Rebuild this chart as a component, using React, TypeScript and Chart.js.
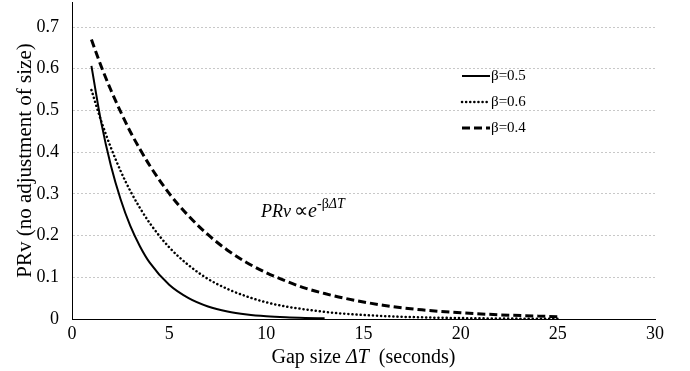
import React, { useEffect, useRef } from 'react';
import { Chart, registerables } from 'chart.js';

Chart.register(...registerables);

// Gap size ΔT (seconds)
const gapSizes = [1, 1.5, 2, 2.5, 3, 3.5, 4, 5, 6, 7, 8, 9, 10, 11, 12, 13, 14, 16, 18, 20, 22, 25];
// β=0.5 (solid) – ends near 13 s where it merges with the axis
const prvBeta05 = [0.607, 0.472, 0.368, 0.287, 0.223, 0.174, 0.135, 0.082, 0.05, 0.03, 0.018, 0.011, 0.0067, 0.0041, 0.0025, 0.0015];
// β=0.6 (dotted)
const prvBeta06 = [0.549, 0.475, 0.411, 0.355, 0.307, 0.266, 0.23, 0.172, 0.129, 0.096, 0.072, 0.054, 0.04, 0.03, 0.023, 0.017, 0.0127, 0.0071, 0.004, 0.0022, 0.0012, 0.0005];
// β=0.4 (dashed)
const prvBeta04 = [0.67, 0.606, 0.549, 0.497, 0.449, 0.407, 0.368, 0.301, 0.247, 0.202, 0.165, 0.135, 0.111, 0.091, 0.074, 0.061, 0.05, 0.033, 0.022, 0.015, 0.01, 0.0055];

const seriesLabels = ['β=0.5', 'β=0.6', 'β=0.4'];
const xTitleParts = ['Gap size ', 'ΔT', '  (seconds)'];
const yTitle = 'PRv (no adjustment of size)';
const formulaParts = ['PRv', '∝', 'e', '-β', 'ΔT'];

const SERIF = '"Liberation Serif", "Times New Roman", serif';

const toPoints = (ys: number[]) => ys.map((y, i) => ({ x: gapSizes[i], y }));

const decorPlugin = {
  id: 'decor',
  afterDraw(chart: any) {
    const { ctx, chartArea } = chart;
    ctx.save();
    ctx.fillStyle = '#000';

    // Y title
    ctx.save();
    ctx.translate(25, (chartArea.top + chartArea.bottom) / 2);
    ctx.rotate(-Math.PI / 2);
    ctx.font = `21px ${SERIF}`;
    ctx.textAlign = 'center';
    ctx.textBaseline = 'middle';
    ctx.fillText(yTitle, 0, 0);
    ctx.restore();

    // X title (mixed italic)
    const fonts = [`20px ${SERIF}`, `italic 20px ${SERIF}`, `20px ${SERIF}`];
    let total = 0;
    const widths = xTitleParts.map((t, i) => {
      ctx.font = fonts[i];
      const w = ctx.measureText(t).width;
      total += w;
      return w;
    });
    let x = (chartArea.left + chartArea.right) / 2 - total / 2;
    ctx.textAlign = 'left';
    ctx.textBaseline = 'alphabetic';
    xTitleParts.forEach((t, i) => {
      ctx.font = fonts[i];
      ctx.fillText(t, x, 363);
      x += widths[i];
    });

    // Formula annotation
    ctx.font = `italic 18px ${SERIF}`;
    ctx.fillText(formulaParts[0], 261, 217);
    ctx.font = `20px ${SERIF}`;
    ctx.fillText(formulaParts[1], 294, 217);
    ctx.font = `italic 20px ${SERIF}`;
    ctx.fillText(formulaParts[2], 308, 217);
    ctx.font = `14px ${SERIF}`;
    ctx.fillText(formulaParts[3], 317, 208);
    const bw = ctx.measureText(formulaParts[3]).width;
    ctx.font = `italic 14px ${SERIF}`;
    ctx.fillText(formulaParts[4], 317 + bw, 208);

    // Legend
    chart.data.datasets.forEach((ds: any, i: number) => {
      const y = 76 + i * 26;
      ctx.save();
      ctx.strokeStyle = ds.borderColor;
      ctx.lineWidth = ds.borderWidth;
      ctx.lineCap = ds.borderCapStyle || 'butt';
      ctx.setLineDash(ds.borderDash || []);
      ctx.beginPath();
      ctx.moveTo(462, y);
      ctx.lineTo(490, y);
      ctx.stroke();
      ctx.restore();
      ctx.font = `15px ${SERIF}`;
      ctx.textBaseline = 'middle';
      ctx.textAlign = 'left';
      ctx.fillText(ds.label, 491, y);
    });
    ctx.restore();
  },
};

export default function App() {
  const canvasRef = useRef<HTMLCanvasElement | null>(null);

  useEffect(() => {
    document.body.style.margin = '0';
    const canvas = canvasRef.current;
    if (!canvas) return;
    const chart = new Chart(canvas, {
      type: 'line',
      data: {
        datasets: [
          {
            label: seriesLabels[0],
            data: toPoints(prvBeta05),
            borderColor: '#000',
            borderWidth: 2,
            pointRadius: 0,
            cubicInterpolationMode: 'monotone',
            fill: false,
          },
          {
            label: seriesLabels[1],
            data: toPoints(prvBeta06),
            borderColor: '#000',
            borderWidth: 2.5,
            borderDash: [0.1, 4],
            borderCapStyle: 'round',
            pointRadius: 0,
            cubicInterpolationMode: 'monotone',
            fill: false,
          },
          {
            label: seriesLabels[2],
            data: toPoints(prvBeta04),
            borderColor: '#000',
            borderWidth: 3,
            borderDash: [8, 4],
            borderCapStyle: 'butt',
            pointRadius: 0,
            cubicInterpolationMode: 'monotone',
            fill: false,
          },
        ],
      },
      options: {
        responsive: false,
        animation: false,
        devicePixelRatio: 1,
        layout: { padding: { left: 0, right: 35, top: 2, bottom: 0 } },
        plugins: { legend: { display: false }, tooltip: { enabled: false } },
        scales: {
          x: {
            type: 'linear',
            min: 0,
            max: 30,
            afterFit: (s: any) => {
              s.height = 52;
              s.paddingLeft = 0;
              s.paddingRight = 0;
            },
            ticks: {
              stepSize: 5,
              padding: 4,
              color: '#000',
              font: { family: SERIF, size: 18 },
              maxRotation: 0,
            },
            grid: { display: false, drawTicks: false },
            border: { display: true, color: '#000', width: 1 },
          },
          y: {
            type: 'linear',
            min: 0,
            max: 0.76,
            afterFit: (s: any) => {
              s.width = 72;
              s.paddingTop = 0;
              s.paddingBottom = 0;
            },
            ticks: {
              stepSize: 0.1,
              includeBounds: false,
              padding: 13,
              color: '#000',
              font: { family: SERIF, size: 18 },
            },
            grid: {
              drawTicks: false,
              lineWidth: 1,
              color: (c: any) => (c.tick && c.tick.value === 0 ? 'rgba(0,0,0,0)' : '#c8c8c8'),
            },
            border: { display: true, color: '#000', width: 1, dash: [2, 2] },
          },
        },
      },
      plugins: [decorPlugin],
    } as any);
    return () => chart.destroy();
  }, []);

  return (
    <div style={{ position: 'relative', width: 690, height: 371 }}>
      <canvas ref={canvasRef} width={690} height={371} style={{ display: 'block' }} />
    </div>
  );
}
